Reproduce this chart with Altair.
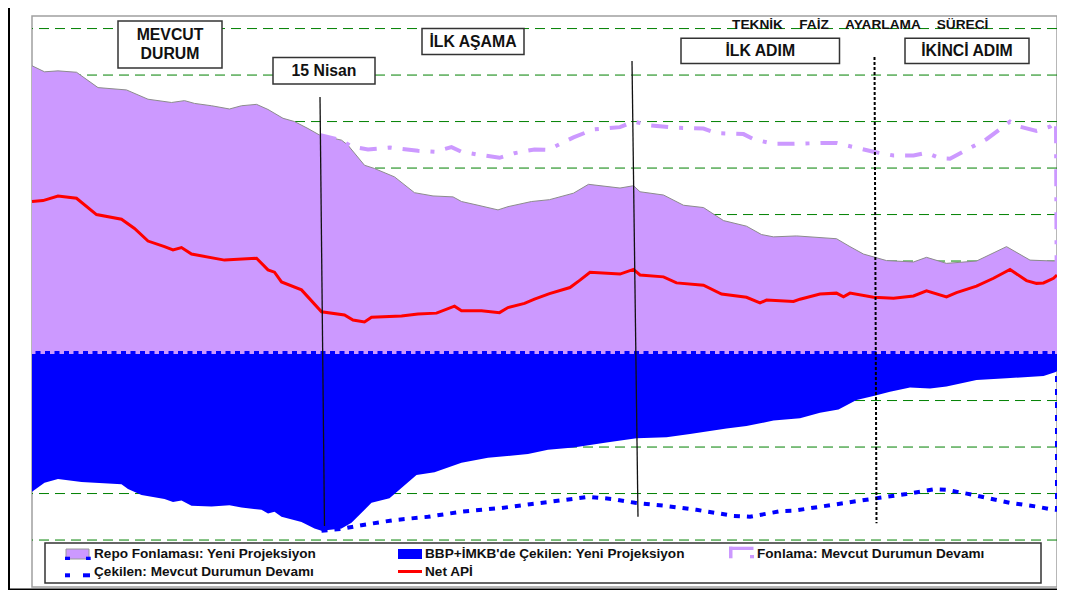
import altair as alt
import pandas as pd

# ---------------- data (time in days, values in grid units) ----------------
REPO_T = [0, 2.5, 5.2, 8.9, 13.2, 18.9, 23.2, 27.9, 30.5, 32.5, 35.9, 39.5, 41.9, 44.9, 47.2, 50.2, 52.5,
          55.2, 57.5, 61.9, 63.2, 66.5, 68.5, 72.5, 76.5, 80.2, 84.2, 85.9, 89.2, 93.2, 95.2, 99.9, 103.5,
          108.3, 111.3, 117.6, 120.3, 121.6, 126.3, 130.3, 134.3, 138.3, 142.9, 145.9, 148.3, 152.9, 160.9,
          163.6, 166.3, 170.9, 176.3, 178.9, 182.9, 188.9, 194.9, 199.6, 204.3, 205]
REPO_V = [6.20, 6.07, 6.09, 6.06, 5.73, 5.68, 5.48, 5.41, 5.45, 5.39, 5.34, 5.27, 5.34, 5.37, 5.26, 5.07, 5.00,
          4.85, 4.71, 4.60, 4.49, 4.06, 3.99, 3.81, 3.47, 3.40, 3.38, 3.28, 3.20, 3.10, 3.17, 3.28, 3.32,
          3.46, 3.65, 3.57, 3.62, 3.49, 3.42, 3.20, 3.15, 2.87, 2.75, 2.57, 2.52, 2.54, 2.48,
          2.31, 2.15, 2.01, 1.98, 2.08, 1.95, 2.00, 2.31, 2.02, 2.00, 2.00]

API_T = [0, 2.2, 5.2, 8.9, 12.9, 17.9, 20.5, 23.2, 26.5, 28.2, 29.9, 31.9, 38.5, 44.9, 47.2, 48.5, 49.9, 53.9,
         57.9, 62.5, 64.2, 66.5, 67.9, 73.9, 77.2, 80.9, 84.5, 85.9, 89.9, 93.5, 95.2, 98.5, 100.5, 103.5,
         107.6, 109.6, 111.6, 117.6, 120.3, 121.6, 126.3, 128.9, 134.3, 137.9, 142.9, 145.6, 146.9, 152.3,
         153.6, 157.6, 160.9, 162.3, 163.6, 168.3, 172.3, 176.3, 178.9, 182.9, 184.9, 188.9, 192.3, 195.6,
         198.9, 200.9, 202.3, 204.3, 205]
API_V = [3.28, 3.30, 3.40, 3.35, 3.00, 2.90, 2.70, 2.43, 2.31, 2.24, 2.29, 2.15, 2.02, 2.06, 1.81, 1.76, 1.55, 1.38,
         0.91, 0.84, 0.73, 0.69, 0.79, 0.82, 0.86, 0.88, 1.03, 0.93, 0.93, 0.89, 1.00, 1.09, 1.18, 1.30,
         1.43, 1.59, 1.76, 1.72, 1.82, 1.70, 1.66, 1.53, 1.48, 1.29, 1.22, 1.10, 1.16, 1.13,
         1.18, 1.29, 1.31, 1.23, 1.31, 1.22, 1.20, 1.25, 1.36, 1.23, 1.32, 1.46, 1.63, 1.82,
         1.58, 1.52, 1.53, 1.63, 1.70]

FON_T = [57.5, 61.9, 63.9, 67.2, 71.6, 77.2, 80.5, 83.9, 85.9, 89.2, 93.5, 96.5, 100.5, 103.2, 108.3, 112.3,
         117.6, 120.3, 123.6, 128.3, 134.3, 136.9, 142.3, 144.3, 148.3, 152.3, 158.3, 160.9, 163.6, 168.3,
         172.3, 176.3, 178.9, 181.6, 183.6, 186.9, 190.9, 195.6, 197.6, 200.9, 203.6, 204.8, 205]
FON_V = [4.71, 4.60, 4.46, 4.40, 4.44, 4.37, 4.35, 4.45, 4.35, 4.29, 4.22, 4.32, 4.40, 4.39, 4.66, 4.83,
         4.88, 5.00, 4.92, 4.87, 4.85, 4.75, 4.73, 4.62, 4.52, 4.52, 4.54, 4.54, 4.47, 4.35,
         4.27, 4.27, 4.33, 4.21, 4.20, 4.39, 4.62, 5.00, 4.89, 4.80, 4.89, 5.00, 0]

BBP_T = [0, 2.5, 5.2, 9.9, 17.9, 19.2, 21.9, 26.5, 28.2, 29.9, 31.9, 35.9, 39.5, 41.9, 45.9, 47.2, 48.5, 49.9,
         53.9, 56.5, 57.9, 61.9, 63.9, 67.9, 71.5, 76.9, 80.5, 85.9, 91.2, 99.2, 103.2, 108.3, 114.9, 120.9,
         126.9, 131.6, 138.9, 142.9, 148.3, 153.6, 157.6, 161.3, 164.9, 168.3, 171.6, 175.6, 179.6, 182.9,
         188.9, 194.9, 202.3, 204.6, 205]
BBP_V = [-2.96, -2.77, -2.69, -2.75, -2.80, -2.90, -3.03, -3.12, -3.18, -3.15, -3.26, -3.28, -3.25, -3.30, -3.35,
         -3.43, -3.39, -3.50, -3.61, -3.75, -3.80, -3.75, -3.63, -3.20, -3.10, -2.60, -2.54, -2.34, -2.23, -2.15,
         -2.06, -2.01, -1.90, -1.81, -1.79, -1.72, -1.60, -1.55, -1.43, -1.38, -1.26, -1.19, -0.99, -0.90, -0.81,
         -0.72, -0.74, -0.70, -0.56, -0.52, -0.47, -0.39, -0.37]

CEK_T = [57.9, 61.9, 65.9, 72.5, 79.2, 85.9, 93.9, 99.6, 105.6, 111.3, 116.3, 120.6, 126.3, 132.9, 140.3, 143.6,
         149.6, 152.3, 160.9, 168.3, 174.9, 180.3, 182.9, 188.3, 195.6, 200.9, 203.9, 205, 205]
CEK_V = [-3.80, -3.76, -3.68, -3.57, -3.50, -3.39, -3.31, -3.23, -3.15, -3.07, -3.12, -3.20, -3.26, -3.35, -3.48,
         -3.50, -3.38, -3.37, -3.23, -3.11, -3.01, -2.91, -2.92, -3.03, -3.20, -3.28, -3.34, -3.35, 0]

GRID_V = [-4, -3, -2, -1, 0, 1, 2, 3, 4, 5, 6, 7]

# phase markers (slanted vertical lines)
MARK_T1 = [57.6, 120.0, 168.5]
MARK_T2 = [58.5, 121.2, 168.9]
MARK_V1 = [5.53, 6.30, 6.39]
MARK_V2 = [-3.70, -3.50, -3.64]

# phase boxes
BOX_LABELS = ["MEVCUT\nDURUM", "15 Nisan", "İLK AŞAMA", "İLK ADIM", "İKİNCİ ADIM"]
BOX_X1 = [17.2, 48.2, 78.0, 129.8, 174.6]
BOX_X2 = [38.0, 68.6, 98.4, 161.5, 199.4]
BOX_Y1 = [7.16, 6.38, 7.00, 6.79, 6.79]
BOX_Y2 = [6.15, 5.81, 6.44, 6.25, 6.25]

TITLE_WORDS = ["TEKNİK", "FAİZ", "AYARLAMA", "SÜRECİ"]
TITLE_T = [145.1, 156.4, 170.2, 186.1]
TITLE_V = 7.08

LEGEND_LABELS = ["Repo Fonlaması: Yeni Projeksiyon", "BBP+İMKB'de Çekilen: Yeni Projeksiyon",
                 "Fonlama: Mevcut Durumun Devamı", "Çekilen: Mevcut Durumun Devamı", "Net APİ"]

# ---------------- styling ----------------
PURPLE = "#CC99FF"
BLUE = "#0000FF"
RED = "#FF0000"
GREEN = "#008000"
FONT = "Liberation Sans"
W, H = 1025, 571

xs = alt.Scale(domain=[0, 205], nice=False, zero=False)
ys = alt.Scale(domain=[-5.01, 7.27], nice=False, zero=False)


def X(f="t"):
    return alt.X(f"{f}:Q", scale=xs, axis=None)


def Y(f="v"):
    return alt.Y(f"{f}:Q", scale=ys, axis=None)


def frame(t, v):
    return pd.DataFrame({"t": t, "v": v, "z": [0.0] * len(t), "i": list(range(len(t)))})


one = pd.DataFrame({"k": [0]})

grid = alt.Chart(pd.DataFrame({"v": GRID_V})).mark_rule(
    color=GREEN, strokeDash=[10, 6], strokeWidth=1).encode(y=Y())

repo_area = alt.Chart(frame(REPO_T, REPO_V)).mark_area(color=PURPLE, opacity=1).encode(
    x=X(), y=Y(), y2="z:Q")
repo_edge = alt.Chart(frame(REPO_T, REPO_V)).mark_line(color="#8c8c8c", strokeWidth=1).encode(
    x=X(), y=Y())
bbp_area = alt.Chart(frame(BBP_T, BBP_V)).mark_area(color=BLUE, opacity=1).encode(
    x=X(), y=Y(), y2="z:Q")
crenel = alt.Chart(pd.DataFrame({"v": [0.035]})).mark_rule(
    color=BLUE, strokeWidth=3, strokeDash=[5, 4.5]).encode(y=Y())

api_line = alt.Chart(frame(API_T, API_V)).mark_line(color=RED, strokeWidth=3).encode(
    x=X(), y=Y(), order="i:Q")
fon_line = alt.Chart(frame(FON_T, FON_V)).mark_line(
    color=PURPLE, strokeWidth=4, strokeDash=[17, 11, 4, 11]).encode(x=X(), y=Y(), order="i:Q")
cek_line = alt.Chart(frame(CEK_T, CEK_V)).mark_line(
    color=BLUE, strokeWidth=4, strokeDash=[6, 7]).encode(x=X(), y=Y(), order="i:Q")

solid_df = pd.DataFrame({"t1": MARK_T1[:2], "t2": MARK_T2[:2], "v1": MARK_V1[:2], "v2": MARK_V2[:2]})
dot_df = pd.DataFrame({"t1": MARK_T1[2:], "t2": MARK_T2[2:], "v1": MARK_V1[2:], "v2": MARK_V2[2:]})
mark_solid = alt.Chart(solid_df).mark_rule(color="#111", strokeWidth=1.3).encode(
    x=X("t1"), x2="t2:Q", y=Y("v1"), y2="v2:Q")
mark_dot = alt.Chart(dot_df).mark_rule(color="#000", strokeWidth=2, strokeDash=[3, 2]).encode(
    x=X("t1"), x2="t2:Q", y=Y("v1"), y2="v2:Q")

box_df = pd.DataFrame({"label": BOX_LABELS, "x1": BOX_X1, "x2": BOX_X2, "y1": BOX_Y1, "y2": BOX_Y2})
box_df["xc"] = (box_df.x1 + box_df.x2) / 2
box_df["yc"] = (box_df.y1 + box_df.y2) / 2
box_df["nlines"] = box_df.label.str.count("\n") + 1
boxes = alt.Chart(box_df).mark_rect(fill="white", stroke="#333", strokeWidth=1.5).encode(
    x=X("x1"), x2="x2:Q", y=Y("y1"), y2="y2:Q")
text_kw = dict(font=FONT, fontWeight="bold", fontSize=15.8, lineBreak="\n", lineHeight=19,
               align="center", baseline="middle", color="#111")
box_text1 = alt.Chart(box_df[box_df.nlines == 1]).mark_text(**text_kw).encode(
    x=X("xc"), y=Y("yc"), text="label:N")
box_text2 = alt.Chart(box_df[box_df.nlines == 2]).mark_text(dy=-9.5, **text_kw).encode(
    x=X("xc"), y=Y("yc"), text="label:N")

title_df = pd.DataFrame({"t": TITLE_T, "v": [TITLE_V] * len(TITLE_T), "w": TITLE_WORDS})
title_text = alt.Chart(title_df).mark_text(
    font=FONT, fontWeight="bold", fontSize=13.7, align="center", baseline="middle",
    color="#111").encode(x=X(), y=Y(), text="w:N")

layers = [grid, repo_area, repo_edge, bbp_area, crenel, api_line, fon_line, cek_line,
          mark_solid, mark_dot, boxes, box_text1, box_text2, title_text]


# ---------------- legend (drawn by hand, pixel positions in plot area) ----------------
def prect(x1, x2, y1, y2, fill, stroke=None, sw=0):
    kw = dict(fill=fill)
    if stroke:
        kw.update(stroke=stroke, strokeWidth=sw)
    return alt.Chart(one).mark_rect(**kw).encode(
        x=alt.value(x1), x2=alt.value(x2), y=alt.value(y1), y2=alt.value(y2))


layers.append(prect(13, 1009, 527, 567, "white", "#333", 1.5))
layers.append(prect(34, 57, 533, 543, PURPLE, "#999", 1))
layers.append(prect(366, 390, 533, 543, BLUE))
layers.append(prect(697, 721.5, 530.7, 534, PURPLE))
layers.append(prect(697, 700.5, 530.7, 542.3, PURPLE))
layers.append(prect(718, 722, 539, 542.3, PURPLE))
layers.append(prect(33, 38, 540.7, 544, BLUE))
layers.append(prect(54, 58.7, 540.7, 544, BLUE))
layers.append(prect(33, 38, 557.3, 561.3, BLUE))
layers.append(prect(51, 58, 557.3, 561.3, BLUE))
layers.append(prect(366, 390, 554, 557, RED))

leg_pos = [(62, 538), (393, 538), (725, 538), (62, 556), (393, 556)]
for lab, (px, py) in zip(LEGEND_LABELS, leg_pos):
    layers.append(alt.Chart(one).mark_text(
        text=lab, font=FONT, fontWeight="bold", fontSize=13.6, align="left", baseline="middle",
        color="#111").encode(x=alt.value(px), y=alt.value(py)))

# outer black frame (left and bottom edges)
layers.append(prect(-24, -22, -8, H + 3, "#000"))
layers.append(prect(-24, W, H + 1.5, H + 3, "#000"))

chart = alt.layer(*layers).properties(
    width=W, height=H,
    padding={"left": 24, "top": 8, "right": 0, "bottom": 3},
    autosize=alt.AutoSizeParams(type="none"),
    background="white",
).configure_view(stroke="#A0A0A0", strokeWidth=1.5)

chart.save("out.html", embed_options={"renderer": "svg", "actions": False})
